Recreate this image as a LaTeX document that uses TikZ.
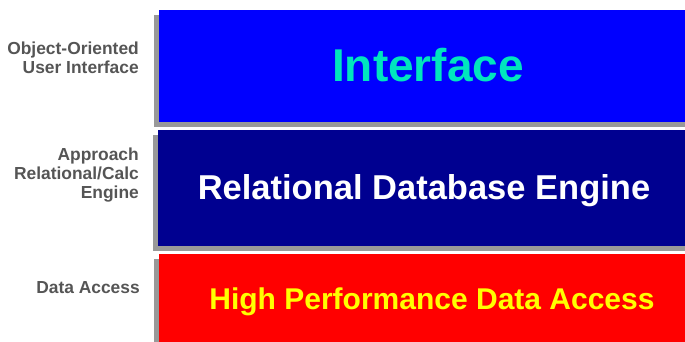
\documentclass[tikz,border=0pt]{standalone}
\usepackage{fontspec}
\setmainfont{Liberation Sans}
\definecolor{shadowgray}{RGB}{153,153,153}
\definecolor{labelgray}{RGB}{85,85,85}
\definecolor{ifaceblue}{RGB}{0,0,255}
\definecolor{enginenavy}{RGB}{0,0,144}
\definecolor{accessred}{RGB}{255,0,0}
\definecolor{ifacetext}{RGB}{0,230,190}
\definecolor{accesstext}{RGB}{255,255,0}
\tikzset{>=stealth}

\begin{document}
\begin{tikzpicture}[x=1pt, y=-1pt,
    lbl/.style={font=\bfseries\fontsize{17.4}{19}\selectfont, text=labelgray, align=right, anchor=east, inner sep=0pt},
    big/.style={font=\bfseries\fontsize{#1}{#1}\selectfont, inner sep=0pt}]
    \useasboundingbox (0,0) rectangle (685,342);
    % layers with their shadows
    \fill [shadowgray] (154,15) rectangle (685,127);
    \fill [ifaceblue] (159,10) rectangle (685,122);
    \fill [shadowgray] (153,135) rectangle (685,251);
    \fill [enginenavy] (158,130) rectangle (685,246);
    \fill [shadowgray] (154,259) rectangle (685,342);
    \fill [accessred] (159,254) rectangle (685,342);
    % texts in the layers
    \node [big=46, text=ifacetext] (iface) at (428,65) {Interface};
    \node [big=34.5, text=white] (engine) at (424,191) {Relational Database Engine};
    \node [big=30, text=accesstext] (access) at (432,302) {High Performance Data Access};
    % labels on the left
    \node [lbl] (ooui) at (139,58) {Object-Oriented\\User Interface};
    \node [lbl] (calc) at (139,175) {Approach\\Relational/Calc\\Engine};
    \node [lbl] (data) at (140,288) {Data Access};
\end{tikzpicture}
\end{document}
